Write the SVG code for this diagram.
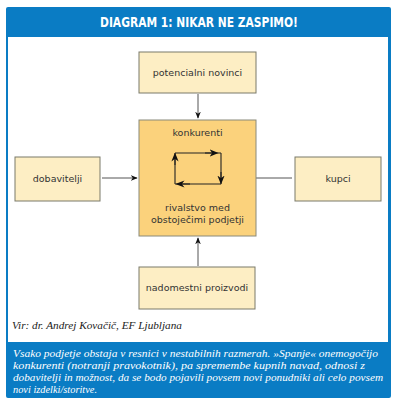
<svg xmlns="http://www.w3.org/2000/svg" width="400" height="409" viewBox="0 0 400 409">
<style>
.box{fill:#FDEEC4;stroke:#7a7a6a;stroke-width:1}
.core{fill:#FBD27C;stroke:#8a8a7a;stroke-width:1}
.lbl{font-family:"DejaVu Sans","Liberation Sans",sans-serif;font-size:9.5px;fill:#333;text-anchor:middle}
.conn{stroke:#555;stroke-width:1;fill:none}
.cap{font-family:"Liberation Serif",serif;font-style:italic;font-size:11px;fill:#fff}
</style>
<defs>
<marker id="ah" viewBox="0 0 10 10" refX="9" refY="5" markerWidth="7" markerHeight="7" markerUnits="userSpaceOnUse" orient="auto">
<path d="M0,1 L10,5 L0,9 L3,5 z" fill="#111"/>
</marker>
<marker id="ah2" viewBox="0 0 10 10" refX="5" refY="5" markerWidth="9" markerHeight="9" markerUnits="userSpaceOnUse" orient="auto">
<path d="M0,1 L10,5 L0,9 L3,5 z" fill="#111"/>
</marker>
</defs>
<rect x="6" y="7" width="385" height="391" rx="2" fill="#0A7CC4"/>
<rect x="8" y="37" width="380" height="305" fill="#fff"/>
<text x="199" y="27" font-family="'DejaVu Sans Condensed','Liberation Sans',sans-serif" font-weight="bold" font-size="14" fill="#fff" text-anchor="middle" textLength="198" lengthAdjust="spacingAndGlyphs">DIAGRAM 1: NIKAR NE ZASPIMO!</text>

<g id="connectors">
<line class="conn" x1="198" y1="94" x2="198" y2="118" marker-end="url(#ah)"/>
<line class="conn" x1="102" y1="178" x2="137" y2="178" marker-end="url(#ah)"/>
<line class="conn" x1="292" y1="178" x2="141" y2="178" marker-end="url(#ah)"/>
<line class="conn" x1="198" y1="266" x2="198" y2="238" marker-end="url(#ah)"/>
</g>

<g id="potencialni-novinci">
<rect class="box" x="139" y="52" width="117" height="41"/>
<text class="lbl" x="197.5" y="76">potencialni novinci</text>
</g>

<g id="konkurenti">
<rect class="core" x="139" y="120" width="117" height="116"/>
<text class="lbl" x="197.5" y="136">konkurenti</text>
<g stroke="#222" stroke-width="1.1" fill="none">
<line x1="175" y1="153" x2="221" y2="153"/>
<line x1="221" y1="153" x2="221" y2="184"/>
<line x1="221" y1="184" x2="175" y2="184"/>
<line x1="175" y1="184" x2="175" y2="153"/>
<line x1="205" y1="153" x2="214" y2="153" marker-end="url(#ah2)"/>
<line x1="221" y1="172" x2="221" y2="180" marker-end="url(#ah2)"/>
<line x1="190" y1="184" x2="180" y2="184" marker-end="url(#ah2)"/>
<line x1="175" y1="165" x2="175" y2="157" marker-end="url(#ah2)"/>
</g>
<text class="lbl" x="197.5" y="211">rivalstvo med</text>
<text class="lbl" x="197.5" y="223">obstoječimi podjetji</text>
</g>

<g id="dobavitelji">
<rect class="box" x="15" y="157" width="85" height="44"/>
<text class="lbl" x="57.5" y="182">dobavitelji</text>
</g>

<g id="kupci">
<rect class="box" x="295" y="157" width="86" height="44"/>
<text class="lbl" x="338" y="182">kupci</text>
</g>

<g id="nadomestni-proizvodi">
<rect class="box" x="139" y="267" width="116" height="42"/>
<text class="lbl" x="197" y="291">nadomestni proizvodi</text>
</g>

<text x="12" y="329" font-family="'Liberation Serif',serif" font-style="italic" font-size="10.5" fill="#222" textLength="170" lengthAdjust="spacingAndGlyphs">Vir: dr. Andrej Kovačič, EF Ljubljana</text>

<text class="cap" x="13" y="357" textLength="365" lengthAdjust="spacingAndGlyphs">Vsako podjetje obstaja v resnici v nestabilnih razmerah. »Spanje« onemogočijo</text>
<text class="cap" x="13" y="369" textLength="352" lengthAdjust="spacingAndGlyphs">konkurenti (notranji pravokotnik), pa spremembe kupnih navad, odnosi z</text>
<text class="cap" x="13" y="381" textLength="370" lengthAdjust="spacingAndGlyphs">dobavitelji in možnost, da se bodo pojavili povsem novi ponudniki ali celo povsem</text>
<text class="cap" x="13" y="393" textLength="84" lengthAdjust="spacingAndGlyphs">novi izdelki/storitve.</text>
</svg>
